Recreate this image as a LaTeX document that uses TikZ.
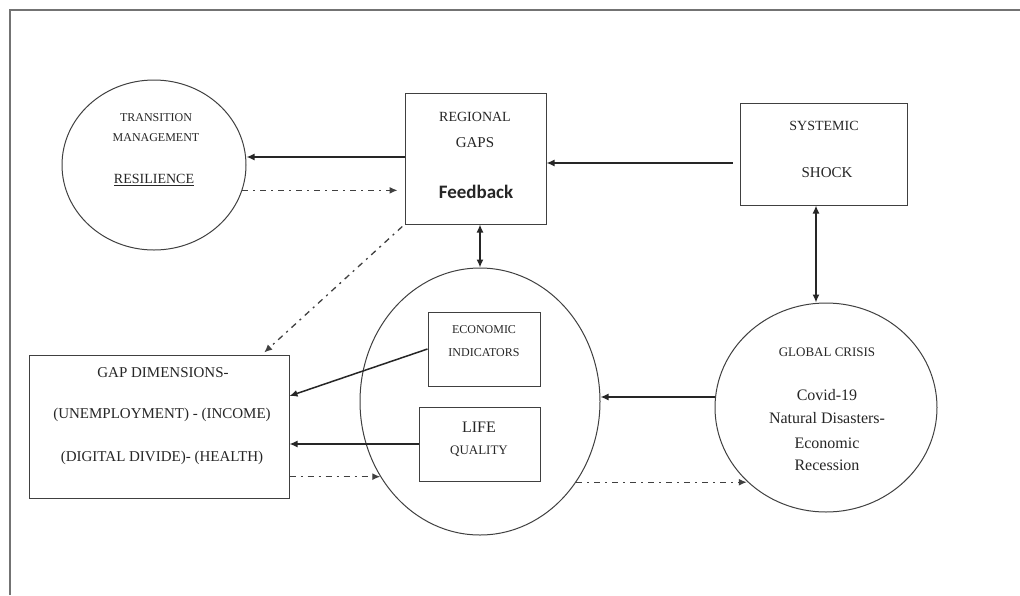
\documentclass[tikz,border=0pt]{standalone}
\usepackage{fontspec}
\setmainfont{Liberation Serif}
\newfontfamily\fbfont{Carlito}
\usetikzlibrary{shapes.geometric,arrows.meta}
\newcommand{\fsz}[1]{\fontsize{#1}{#1}\selectfont}
\begin{document}
\begin{tikzpicture}[x=1pt,y=-1pt,
  shapeline/.style={draw=black!75,line width=1pt},
  boxnode/.style={shapeline,rectangle,inner sep=0pt},
  ellnode/.style={shapeline,ellipse,inner sep=0pt},
  lbl/.style={inner sep=0pt,text=black!85,anchor=center},
  arr/.style={draw=black!85,line width=1.5pt,-{Latex[length=8pt,width=7pt]}},
  biarr/.style={draw=black!85,line width=1.5pt,{Latex[length=8pt,width=7pt]}-{Latex[length=8pt,width=7pt]}},
  dasharr/.style={draw=black!75,line width=1.3pt,dash pattern=on 6pt off 5pt on 2pt off 5pt,-{Latex[length=8pt,width=7pt]}}
]
\useasboundingbox (0,0) rectangle (1020,595);
\fill[white] (0,0) rectangle (1020,595);
% frame
\draw[black!55,line width=1.2pt] (10,595) -- (10,10) -- (1020,10);

% shapes
\node[ellnode,minimum width=184pt,minimum height=170pt] (trans) at (154,165) {};
\node[boxnode,minimum width=141pt,minimum height=131pt] (reg) at (475.5,158.5) {};
\node[boxnode,minimum width=167pt,minimum height=102pt] (sys) at (823.5,154) {};
\node[ellnode,minimum width=240pt,minimum height=267pt] (cen) at (480,401.5) {};
\node[boxnode,minimum width=112pt,minimum height=74pt] (econ) at (484,349) {};
\node[boxnode,minimum width=121pt,minimum height=74pt] (life) at (479.5,444) {};
\node[boxnode,minimum width=260pt,minimum height=143pt] (gap) at (159,426.5) {};
\node[ellnode,minimum width=222pt,minimum height=209pt] (glob) at (826,407.5) {};

% texts
\node[lbl] (t1) at (156,118) {\fsz{12}TRANSITION};
\node[lbl] (t2) at (156,138) {\fsz{12}MANAGEMENT};
\node[lbl] (t3) at (154,180) {\fsz{14}\underline{RESILIENCE}};
\node[lbl] (r1) at (475,117) {\fsz{14}REGIONAL};
\node[lbl] (r2) at (475,143) {\fsz{15}GAPS};
\node[lbl] (r3) at (476,192) {\fsz{19}\fbfont\bfseries Feedback};
\node[lbl] (s1) at (824,126) {\fsz{14}SYSTEMIC};
\node[lbl] (s2) at (827,173) {\fsz{15}SHOCK};
\node[lbl] (e1) at (484,330) {\fsz{12}ECONOMIC};
\node[lbl] (e2) at (484,353) {\fsz{12}INDICATORS};
\node[lbl] (l1) at (479,427) {\fsz{16}LIFE};
\node[lbl] (l2) at (479,451) {\fsz{13}QUALITY};
\node[lbl] (g1) at (163,373) {\fsz{15}GAP DIMENSIONS-};
\node[lbl] (g2) at (162,415) {\fsz{15}(UNEMPLOYMENT) - (INCOME)};
\node[lbl] (g3) at (162,458) {\fsz{15}(DIGITAL DIVIDE)- (HEALTH)};
\node[lbl] (c1) at (827,352) {\fsz{13}GLOBAL CRISIS};
\node[lbl] (c2) at (827,395) {\fsz{16}Covid-19};
\node[lbl] (c3) at (827,418) {\fsz{16}Natural Disasters-};
\node[lbl] (c4) at (827,443) {\fsz{16}Economic};
\node[lbl] (c5) at (827,465) {\fsz{16}Recession};

% connectors
\draw[arr] (reg.west |- 0,157) -- (trans.east |- 0,157);
\draw[dasharr,shorten >=7pt] (trans.-16) -- (trans.-16 -| reg.west);
\draw[arr,shorten <=7pt] (sys.west |- 0,163) -- (reg.east |- 0,163);
\draw[biarr] (cen.north |- reg.south) -- (cen.north);
\draw[biarr] (sys.south -| 816,0) -- (glob.north -| 816,0);
\draw[dasharr,shorten <=3pt,shorten >=3pt] (reg.south west) -- (gap.north -| 262,0);
\draw[arr] (econ.west) -- (gap.east |- 0,396);
\draw[arr] (life.west) -- (gap.east |- life.west);
\draw[dasharr] (gap.east |- cen.217) -- (cen.217);
\draw[dasharr] (cen.-40.5) -- (cen.-40.5 -| glob.223.7);
\draw[arr] (glob.west |- 0,397) -- (cen.east |- 0,397);
\end{tikzpicture}
\end{document}
